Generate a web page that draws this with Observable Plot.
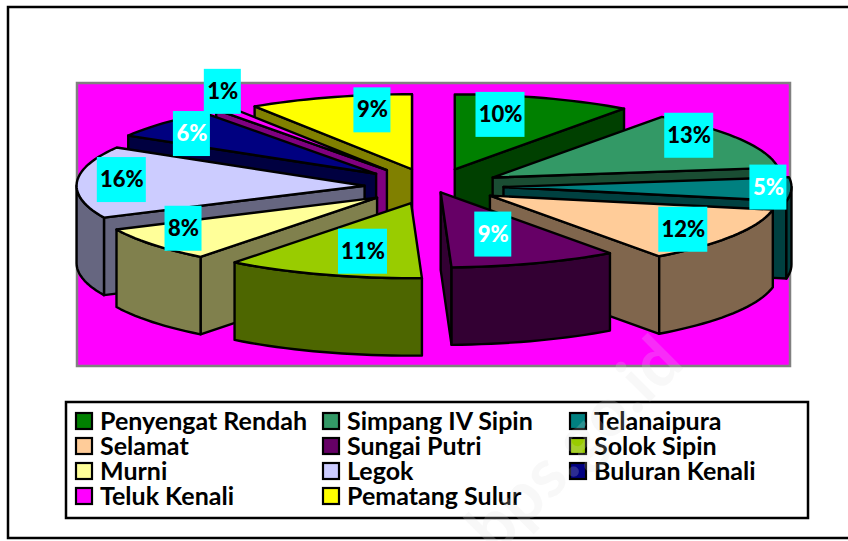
<!DOCTYPE html>
<html><head><meta charset="utf-8">
<style>html,body{margin:0;padding:0;background:#fff}svg{display:block}</style>
<script src="https://cdn.jsdelivr.net/npm/d3@7"></script>
<script src="https://cdn.jsdelivr.net/npm/@observablehq/plot@0.6"></script>
</head><body><script>
const names = ["Penyengat Rendah","Simpang IV Sipin","Telanaipura","Selamat","Sungai Putri","Solok Sipin","Murni","Legok","Buluran Kenali","Teluk Kenali","Pematang Sulur"];
const shares = [10.0,12.9,5.1,12.0,9.4,11.1,7.5,15.5,6.4,0.9,9.2];
const tops = ["#008000","#339966","#008080","#FFCC99","#660066","#99CC00","#FFFF99","#CCCCFF","#000080","#FF00FF","#FFFF00"];
const sides = ["#004000","#1A4D33","#004040","#80664D","#330033","#4D6600","#80804D","#666680","#000040","#800080","#808000"];
const labelInk = ["#000","#000","#fff","#000","#fff","#000","#000","#000","#fff","#000","#000"];
const explode = [72,70,71,68,25,70,71,68,76,80,72];
const paintOrder = [0,1,2,3,10,9,8,7,6,4,5];
const labelNudge = [[-21,-1],[11,-13],[49,-1],[11,4],[-18,-11],[18,-5],[-25,-4],[-27,-3],[-24,-2],[-41,-32],[22,-5]];
const legendOrder = [0,1,2,3,4,5,6,7,8,9,10];

const W=848,H=541, cx=432, cy=186, rx=288, ry=75, depth=77.5;
const rad=d=>d*Math.PI/180;
let cum=0;
const slices=shares.map((s,i)=>{const a=cum*3.6;cum+=s;const b=cum*3.6;const m=(a+b)/2;
  const ax=cx+explode[i]*Math.sin(rad(m)), ay=cy-explode[i]*.25*Math.cos(rad(m));
  return {i,a,b,m,ax,ay};});
const on=(s,t,z=0)=>({x:s.ax+rx*Math.sin(rad(t)),y:s.ay-ry*Math.cos(rad(t))+z});
const sweep=(t0,t1)=>{const n=Math.max(2,Math.ceil((t1-t0)/2)),o=[];for(let k=0;k<=n;k++)o.push(t0+(t1-t0)*k/n);return o;};
const faces=[];let fid=0;
const face=(pts,fill)=>{const z=fid++;pts.forEach(p=>faces.push({x:p.x,y:p.y,z,fill}));};
for(const i of paintOrder){const s=slices[i],A={x:s.ax,y:s.ay},A2={x:s.ax,y:s.ay+depth};
  if(Math.sin(rad(s.a))<0) face([A,on(s,s.a),on(s,s.a,depth),A2],sides[i]);
  if(Math.sin(rad(s.b))>0) face([A,on(s,s.b),on(s,s.b,depth),A2],sides[i]);
  const lo=Math.max(s.a,90),hi=Math.min(s.b,270);
  if(hi>lo){const ts=sweep(lo,hi);face([...ts.map(t=>on(s,t)),...ts.slice().reverse().map(t=>on(s,t,depth))],sides[i]);}
  face([A,...sweep(s.a,s.b).map(t=>on(s,t))],tops[i]);
}
const labels=slices.map(s=>{const p=on(s,s.m);const n=labelNudge[s.i];
  const text=Math.round(shares[s.i])+"%";const w=text.length>2?49:37;
  const x=s.ax+.75*(p.x-s.ax)+n[0],y=s.ay+.75*(p.y-s.ay)+n[1];
  return {x,y,text,x1:x-w/2,x2:x+w/2,y1:y-22.5,y2:y+22.5,ink:labelInk[s.i]};});
const legend=legendOrder.map((i,k)=>{const col=k%3,row=Math.floor(k/3);
  const x=[76,323,570][col],y=421+row*25;
  return {x1:x,x2:x+16,y1:y-8,y2:y+8,tx:x+23.5,y,name:names[i],fill:tops[i]};});
const font="Lato, 'Liberation Sans', sans-serif";
const chart=Plot.plot({width:W,height:H,margin:0,
  x:{axis:null,domain:[0,W],range:[0,W]},y:{axis:null,domain:[0,H],range:[0,H]},
  style:{background:"#fff"},
  marks:[
    Plot.rect([{x1:8,x2:870,y1:7,y2:538}],{x1:"x1",x2:"x2",y1:"y1",y2:"y2",fill:"#fff",stroke:"#000",strokeWidth:2.5}),
    Plot.rect([{x1:77,x2:790,y1:83,y2:366}],{x1:"x1",x2:"x2",y1:"y1",y2:"y2",fill:"#FF00FF",stroke:"#808080",strokeWidth:2.5}),
    Plot.line(faces,{x:"x",y:"y",z:"z",fill:"fill",stroke:"#000",strokeWidth:2.4,strokeLinejoin:"round",curve:"linear-closed"}),
    Plot.rect(labels,{x1:"x1",x2:"x2",y1:"y1",y2:"y2",fill:"#00FFFF"}),
    Plot.text(labels,{x:"x",y:"y",text:"text",fill:"ink",fontFamily:font,fontWeight:900,fontSize:22}),
    Plot.rect([{x1:66,x2:808,y1:402,y2:518}],{x1:"x1",x2:"x2",y1:"y1",y2:"y2",fill:"#fff",stroke:"#000",strokeWidth:2.5}),
    Plot.rect(legend,{x1:"x1",x2:"x2",y1:"y1",y2:"y2",fill:"fill",stroke:"#000",strokeWidth:2.2}),
    Plot.text(legend,{x:"tx",y:"y",text:"name",textAnchor:"start",fontFamily:font,fontWeight:700,fontSize:25,fill:"#000"}),
    Plot.text([{x:575,y:445,t:"bps.go.id"}],{x:"x",y:"y",text:"t",rotate:-45,fontFamily:font,fontWeight:700,fontSize:68,fill:"#ddd",fillOpacity:.2})
  ]});
document.body.appendChild(chart);
</script></body></html>
